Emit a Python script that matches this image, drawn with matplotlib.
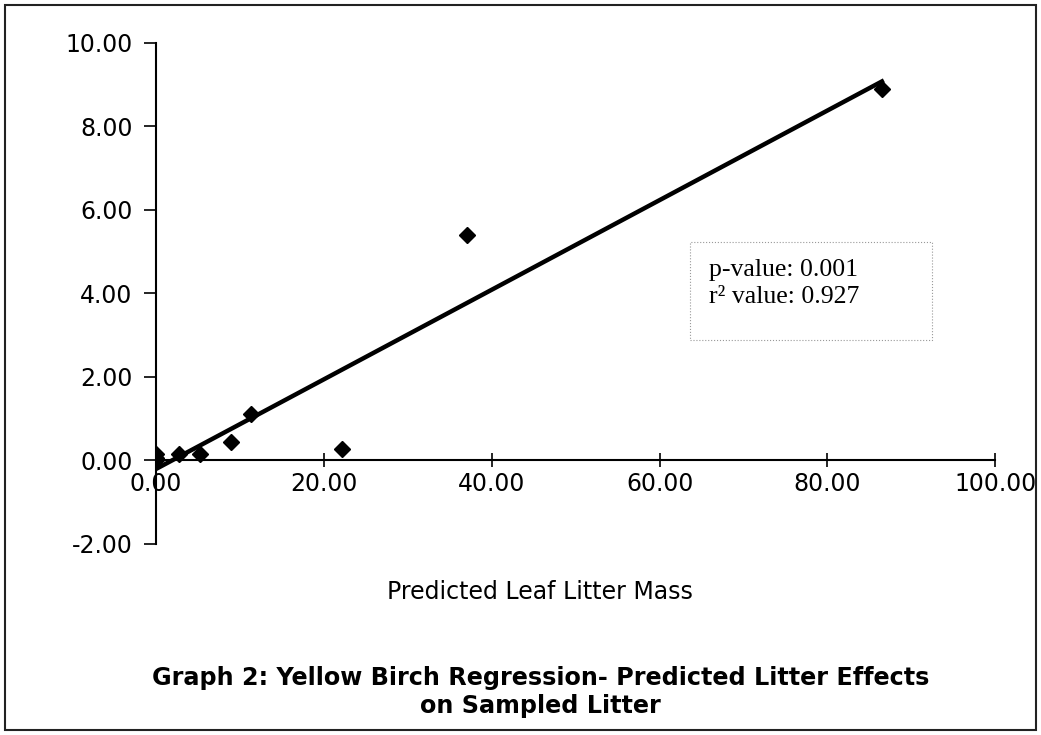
import numpy as np
import matplotlib.pyplot as plt
from matplotlib.patches import Rectangle

# predicted vs sampled leaf litter mass (yellow birch)
predicted = np.array([0.0, 0.0, 0.0, 2.7, 5.2, 8.9, 11.3, 22.2, 37.1, 86.5])
sampled = np.array([0.0, 0.05, 0.15, 0.15, 0.15, 0.43, 1.12, 0.28, 5.4, 8.9])

p_text = "p-value: 0.001"
r2_text = "r\u00b2 value: 0.927"

fig = plt.figure(figsize=(10.41, 7.35), dpi=100)
ax = fig.add_axes([0.150, 0.260, 0.806, 0.6815])

# least squares line over the data range
slope, icept = np.polyfit(predicted, sampled, 1)
xl = np.array([0.0, predicted.max()])
ax.plot(xl, slope * xl + icept, color='black', lw=3.2, zorder=2)

ax.plot(predicted, sampled, 'D', color='black', ms=8, zorder=3)

ax.set_xlim(0, 100)
ax.set_ylim(-2, 10)
ax.spines['bottom'].set_position(('data', 0))
ax.spines['left'].set_position(('data', 0))
ax.spines['top'].set_visible(False)
ax.spines['right'].set_visible(False)
ax.spines['left'].set_linewidth(1.5)
ax.spines['bottom'].set_linewidth(1.5)

ax.set_xticks(np.arange(0, 101, 20))
ax.set_xticklabels(['%.2f' % v for v in np.arange(0, 101, 20)])
ax.set_yticks(np.arange(-2, 11, 2))
ax.set_yticklabels(['%.2f' % v for v in np.arange(-2, 11, 2)])
ax.tick_params(axis='x', direction='inout', length=10, width=1.2, labelsize=17, pad=3)
ax.tick_params(axis='y', direction='out', length=9, width=1.2, labelsize=17, pad=8)

fig.text(0.519, 0.195, "Predicted Leaf Litter Mass", ha='center', va='center', fontsize=17)
fig.text(0.519, 0.058, "Graph 2: Yellow Birch Regression- Predicted Litter Effects\non Sampled Litter",
         ha='center', va='center', fontsize=17.2, fontweight='bold', linespacing=1.2)

# stats box
fig.patches.append(Rectangle((690 / 1041, 1 - 340 / 735), 242 / 1041, 98 / 735,
                             transform=fig.transFigure, fill=False, ec='#999999',
                             lw=0.8, ls=':'))
fig.text(709 / 1041, 1 - 270 / 735, p_text, family='Liberation Serif', fontsize=18.5, va='center')
fig.text(709 / 1041, 1 - 297 / 735, r2_text, family='Liberation Serif', fontsize=18.5, va='center')

# outer frame
fig.patches.append(Rectangle((5 / 1041, 5 / 735), 1031 / 1041, 725 / 735,
                             transform=fig.transFigure, fill=False, ec='#222222', lw=1.5))

fig.savefig('out.png', dpi=100)
